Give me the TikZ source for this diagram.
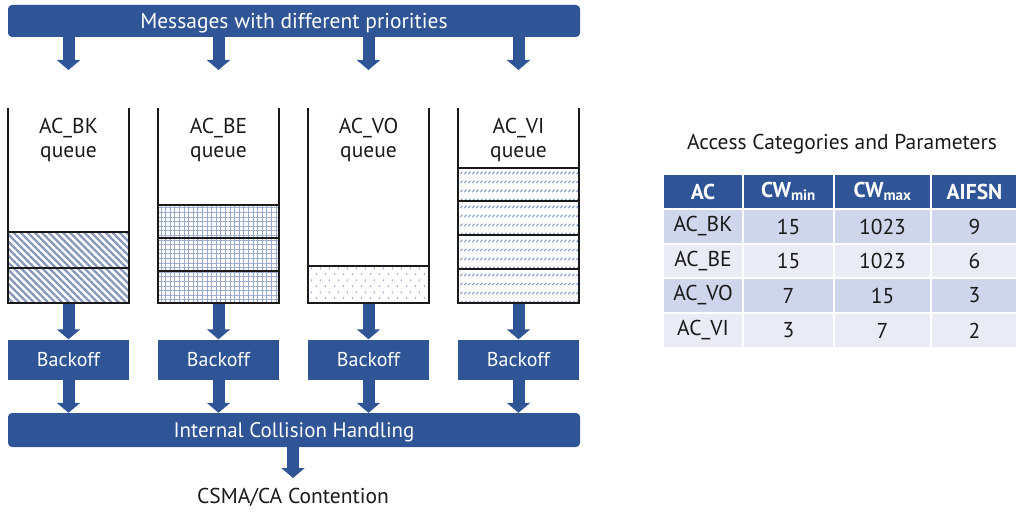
\documentclass[tikz,border=0pt]{standalone}
\usepackage{fontspec}
\setmainfont{PT Sans}
\usetikzlibrary{arrows.meta,patterns.meta,calc}
\definecolor{mblue}{HTML}{2F5597}
\definecolor{rowA}{HTML}{CFD5EA}
\definecolor{rowB}{HTML}{E9EBF5}
\definecolor{hatchc}{HTML}{8797BB}
\definecolor{gridc}{HTML}{9AAACB}
\definecolor{voc}{HTML}{9AAAD0}
\definecolor{vic}{HTML}{5E84CC}
\definecolor{txt}{HTML}{1A1A1A}
\pgfdeclarepattern{
  name=voconf, type=uncolored,
  bottom left={\pgfpoint{0pt}{0pt}}, top right={\pgfpoint{9pt}{12pt}},
  tile size={\pgfpoint{9pt}{12pt}},
  code={
    \pgfsetlinewidth{0.7pt}
    \pgfpathmoveto{\pgfpoint{1pt}{1pt}}\pgfpathlineto{\pgfpoint{2.2pt}{2pt}}\pgfpathlineto{\pgfpoint{1pt}{3pt}}
    \pgfpathmoveto{\pgfpoint{6.5pt}{7pt}}\pgfpathlineto{\pgfpoint{5.5pt}{8pt}}\pgfpathlineto{\pgfpoint{6.5pt}{9pt}}
    \pgfusepath{stroke}
  }
}
\pgfdeclarepattern{
  name=vidash, type=uncolored,
  bottom left={\pgfpoint{0pt}{0pt}}, top right={\pgfpoint{4pt}{8.5pt}},
  tile size={\pgfpoint{4pt}{8.5pt}},
  code={
    \pgfsetlinewidth{0.9pt}
    \pgfpathmoveto{\pgfpoint{0.6pt}{1pt}}\pgfpathlineto{\pgfpoint{3pt}{3.4pt}}
    \pgfusepath{stroke}
  }
}
\tikzset{
  bar/.style={fill=mblue,rounded corners=4pt,text=white,inner sep=0pt,text depth=0pt,font=\fontsize{21.5}{24}\selectfont},
  bkbox/.style={fill=mblue,text=white,minimum width=121pt,minimum height=40pt,inner sep=0pt,font=\fontsize{20}{24}\selectfont},
  flow/.style={draw=mblue,line width=12pt,-{Triangle[width=23pt,length=10pt]}},
  qwall/.style={draw=txt,line width=1.3pt},
  cell/.style={draw=txt,line width=1.3pt},
  qlabel/.style={align=center,text=txt,font=\fontsize{21.5}{24}\selectfont},
  tcell/.style={draw=white,line width=2pt,inner sep=0pt,text=txt,font=\fontsize{21.5}{24}\selectfont},
  thead/.style={tcell,fill=mblue,text=white,font=\bfseries\fontsize{21.5}{24}\selectfont},
}
\begin{document}
\begin{tikzpicture}[x=1pt,y=-1pt]
\useasboundingbox (0,0) rectangle (1016,516);
% top bar
\node[bar,text height=16pt,minimum width=572pt,minimum height=32pt] (top) at (294,21) {Messages with different priorities};
% queues
\foreach \i/\xl in {1/8,2/158,3/308,4/458}{
  \coordinate (qt\i) at (\xl+60.5,37);
  \coordinate (qa\i) at (\xl+60.5,70);
  \coordinate (qb\i) at (\xl+60.5,304);
}
% cells
\foreach \ya/\yb in {232/268,268/303}
  \draw[cell,pattern={Lines[angle=-45,distance=5pt,line width=2.3pt]},pattern color=hatchc] (8,\ya) rectangle (129,\yb);
\foreach \ya/\yb in {205/238,238/271,271/303}
  \draw[cell,pattern={Hatch[angle=0,distance=4.6pt,line width=0.9pt]},pattern color=gridc] (158,\ya) rectangle (279,\yb);
\draw[cell,pattern=voconf,pattern color=voc] (308,266) rectangle (429,303);
\foreach \ya/\yb in {168/201,201/235,235/269,269/303}
  \draw[cell,pattern=vidash,pattern color=vic] (458,\ya) rectangle (579,\yb);
% walls
\foreach \xl in {8,158,308,458}
  \draw[qwall] (\xl,108) -- (\xl,303) -- (\xl+121,303) -- (\xl+121,108);
% labels
\node[qlabel] (l1) at (68.5,140) {AC\_BK\\queue};
\node[qlabel] (l2) at (218.5,140) {AC\_BE\\queue};
\node[qlabel] (l3) at (368.5,140) {AC\_VO\\queue};
\node[qlabel] (l4) at (518.5,140) {AC\_VI\\queue};
% backoff
\foreach \i/\xl in {1/8,2/158,3/308,4/458}
  \node[bkbox] (b\i) at (\xl+60.5,359.5) {Backoff};
% ICH
\node[bar,font=\fontsize{21}{24}\selectfont,text height=14.5pt,minimum width=572pt,minimum height=34pt] (ich) at (294,430) {Internal Collision Handling};
\coordinate (ce) at (293,478);
\node[text=txt,font=\fontsize{21.5}{24}\selectfont] (csma) at (293,497) {CSMA/CA Contention};
% arrows
\foreach \i in {1,2,3,4}{
  \draw[flow] (qt\i) -- (qa\i);
  \draw[flow] (qb\i) -- (b\i.north);
  \draw[flow] (b\i.south) -- (b\i.south |- ich.north);
}
\draw[flow] (ich.south -| ce) -- (ce);
% table
\node[text=txt,font=\fontsize{21.5}{24}\selectfont] (ttl) at (842,144) {Access Categories and Parameters};
\def\cola{663}\def\colb{743}\def\colc{834}\def\cold{931}\def\cole{1018}
\foreach \r/\ya/\yb/\fc/\st/\ta/\tb/\tc/\td in {
  0/174/209/mblue/thead/AC/CW\textsubscript{min}/CW\textsubscript{max}/AIFSN,
  1/209/244/rowA/tcell/AC\_BK/15/1023/9,
  2/244/278/rowB/tcell/AC\_BE/15/1023/6,
  3/278/313/rowA/tcell/AC\_VO/7/15/3,
  4/313/348/rowB/tcell/AC\_VI/3/7/2}{
  \node[\st,fill=\fc,minimum width=80pt,minimum height=\yb-\ya] (t\r a) at ({(\cola+\colb)/2},{(\ya+\yb)/2}) {\ta};
  \node[\st,fill=\fc,minimum width=91pt,minimum height=\yb-\ya] (t\r b) at ({(\colb+\colc)/2},{(\ya+\yb)/2}) {\tb};
  \node[\st,fill=\fc,minimum width=97pt,minimum height=\yb-\ya] (t\r c) at ({(\colc+\cold)/2},{(\ya+\yb)/2}) {\tc};
  \node[\st,fill=\fc,minimum width=87pt,minimum height=\yb-\ya] (t\r d) at ({(\cold+\cole)/2},{(\ya+\yb)/2}) {\td};
}
\end{tikzpicture}
\end{document}
